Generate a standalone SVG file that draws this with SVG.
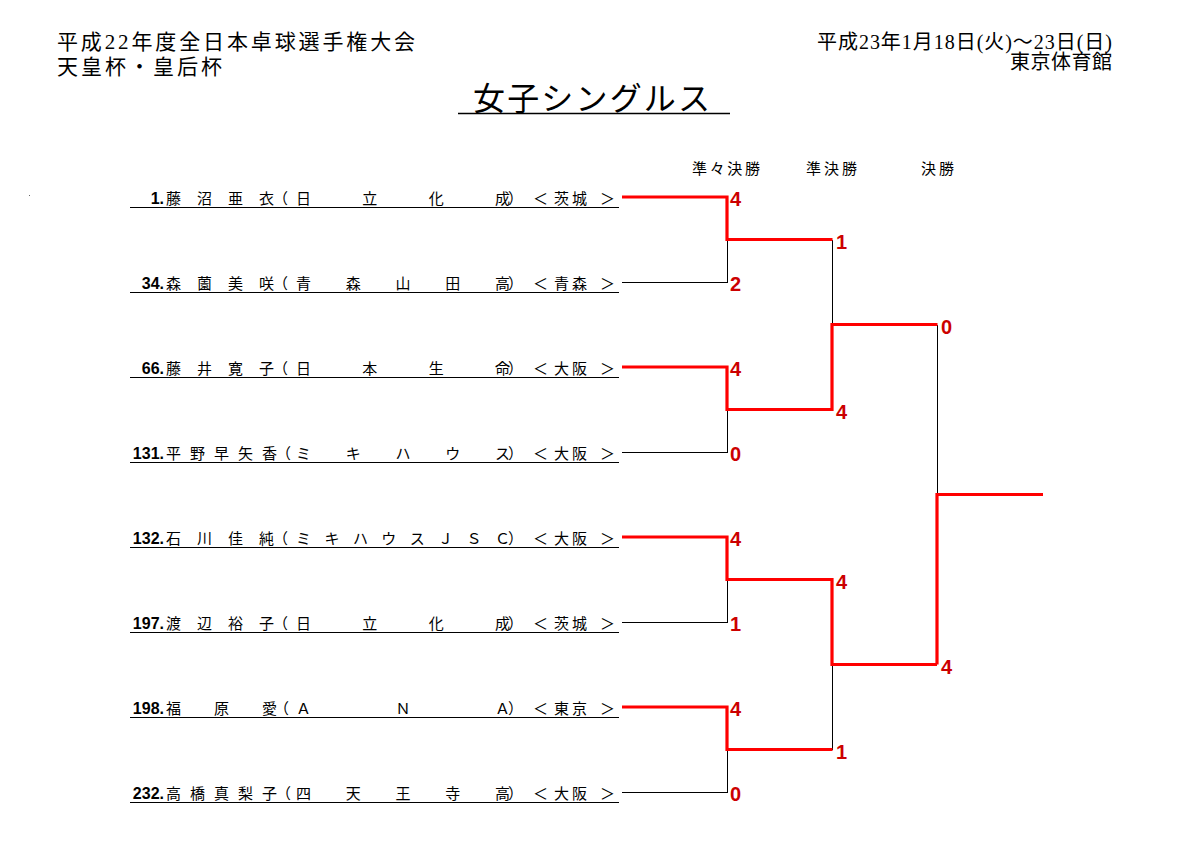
<svg xmlns="http://www.w3.org/2000/svg" width="1190" height="841" viewBox="0 0 1190 841">
<style>
.hd{font-family:"Liberation Serif","Noto Sans CJK JP",serif;fill:#000}
.ttl{font-family:"Noto Sans CJK JP",sans-serif;font-size:32px;fill:#000}
.rd{font-family:"Noto Sans CJK JP",sans-serif;font-size:15px;fill:#000}
.num{font-family:"Liberation Sans",Arial,sans-serif;font-weight:bold;font-size:16px;fill:#000;text-anchor:end}
.nm{font-family:"Noto Sans CJK JP",sans-serif;font-size:15px;fill:#000}
.sc{font-family:"Liberation Sans",Arial,sans-serif;font-weight:bold;font-size:20px;fill:#cc0000}
.ul{stroke:#000;stroke-width:1;shape-rendering:crispEdges}
.bk{fill:none;stroke:#000;stroke-width:1;shape-rendering:crispEdges}
.rw{fill:none;stroke:#ff0000;stroke-width:3.2;stroke-linejoin:miter;stroke-linecap:butt}
</style>
<rect width="1190" height="841" fill="#fff"/>

<g id="header">
<text class="hd" x="57" y="49" font-size="21" textLength="358" lengthAdjust="spacing">平成22年度全日本卓球選手権大会</text>
<text class="hd" x="57" y="74" font-size="21" textLength="165" lengthAdjust="spacing">天皇杯・皇后杯</text>
<text class="hd" x="817" y="49" font-size="20" textLength="295" lengthAdjust="spacing">平成23年1月18日(火)～23日(日)</text>
<text class="hd" x="1010" y="69" font-size="20" textLength="102" lengthAdjust="spacing">東京体育館</text>
<text class="ttl" x="473" y="110" textLength="237" lengthAdjust="spacing">女子シングルス</text>
<line x1="458" y1="113.5" x2="730" y2="113.5" stroke="#000" stroke-width="1.5"/>
<rect x="29" y="195" width="1" height="1" fill="#666"/>
</g>

<g id="round-labels">
<text class="rd" x="692" y="174" textLength="68" lengthAdjust="spacing">準々決勝</text>
<text class="rd" x="806" y="174" textLength="51" lengthAdjust="spacing">準決勝</text>
<text class="rd" x="921" y="174" textLength="33" lengthAdjust="spacing">決勝</text>
</g>

<g id="player-1">
<text class="num" x="164" y="203.5">1.</text>
<text class="nm" x="166 197 228 259 273 296 362.3 428.7 495 508 533 554 572 600" y="204">藤沼亜衣（日立化成）＜茨城＞</text>
<line class="ul" x1="130" y1="207.5" x2="619" y2="207.5"/>
</g>
<g id="player-34">
<text class="num" x="164" y="288.5">34.</text>
<text class="nm" x="166 197 228 259 273 296 345.75 395.5 445.25 495 508 533 554 572 600" y="289">森薗美咲（青森山田高）＜青森＞</text>
<line class="ul" x1="130" y1="292.5" x2="619" y2="292.5"/>
</g>
<g id="player-66">
<text class="num" x="164" y="373.5">66.</text>
<text class="nm" x="166 197 228 259 273 296 362.3 428.7 495 508 533 554 572 600" y="374">藤井寛子（日本生命）＜大阪＞</text>
<line class="ul" x1="130" y1="377.5" x2="619" y2="377.5"/>
</g>
<g id="player-131">
<text class="num" x="164" y="458.5">131.</text>
<text class="nm" x="166 190 214 238 262 276 296 345.75 395.5 445.25 495 508 533 554 572 600" y="459">平野早矢香（ミキハウス）＜大阪＞</text>
<line class="ul" x1="130" y1="462.5" x2="619" y2="462.5"/>
</g>
<g id="player-132">
<text class="num" x="164" y="543.5">132.</text>
<text class="nm" x="166 197 228 259 273 296 324.4 352.9 381.3 409.7 438.1 466.6 495 508 533 554 572 600" y="544">石川佳純（ミキハウスＪＳＣ）＜大阪＞</text>
<line class="ul" x1="130" y1="547.5" x2="619" y2="547.5"/>
</g>
<g id="player-197">
<text class="num" x="164" y="628.5">197.</text>
<text class="nm" x="166 197 228 259 273 296 362.3 428.7 495 508 533 554 572 600" y="629">渡辺裕子（日立化成）＜茨城＞</text>
<line class="ul" x1="130" y1="632.5" x2="619" y2="632.5"/>
</g>
<g id="player-198">
<text class="num" x="164" y="713.5">198.</text>
<text class="nm" x="166 214 262 274 296 395.5 495 508 533 554 572 600" y="714">福原愛（ＡＮＡ）＜東京＞</text>
<line class="ul" x1="130" y1="717.5" x2="619" y2="717.5"/>
</g>
<g id="player-232">
<text class="num" x="164" y="798.5">232.</text>
<text class="nm" x="166 190 214 238 262 276 296 345.75 395.5 445.25 495 508 533 554 572 600" y="799">高橋真梨子（四天王寺高）＜大阪＞</text>
<line class="ul" x1="130" y1="802.5" x2="619" y2="802.5"/>
</g>

<g id="connectors">
<path class="bk" d="M622 282.5 H727.5 V239.5"/>
<path class="bk" d="M622 452.5 H727.5 V409.5"/>
<path class="bk" d="M622 622.5 H727.5 V579.5"/>
<path class="bk" d="M622 792.5 H727.5 V749.5"/>
<path class="bk" d="M832.5 239.5 V324.5"/>
<path class="bk" d="M832.5 664.5 V749.5"/>
<path class="bk" d="M937.5 324.5 V494.5"/>
<path class="rw" d="M622 197 H727 V239.5 H832.5"/>
<path class="rw" d="M622 367 H727 V409.5 H832 V324.5 H937.5"/>
<path class="rw" d="M622 537 H727 V579.5 H832 V664.5 H937"/>
<path class="rw" d="M622 707 H727 V749.5 H832.5"/>
<path class="rw" d="M937 664.5 V494.5 H1043"/>
</g>

<g id="scores">
<text class="sc" x="730" y="206">4</text>
<text class="sc" x="730" y="291">2</text>
<text class="sc" x="730" y="376">4</text>
<text class="sc" x="730" y="461">0</text>
<text class="sc" x="730" y="546">4</text>
<text class="sc" x="730" y="631">1</text>
<text class="sc" x="730" y="716">4</text>
<text class="sc" x="730" y="801">0</text>
<text class="sc" x="836" y="248.5">1</text>
<text class="sc" x="836" y="418.5">4</text>
<text class="sc" x="836" y="588.5">4</text>
<text class="sc" x="836" y="758.5">1</text>
<text class="sc" x="941" y="333.5">0</text>
<text class="sc" x="941" y="673.5">4</text>
</g>
</svg>
